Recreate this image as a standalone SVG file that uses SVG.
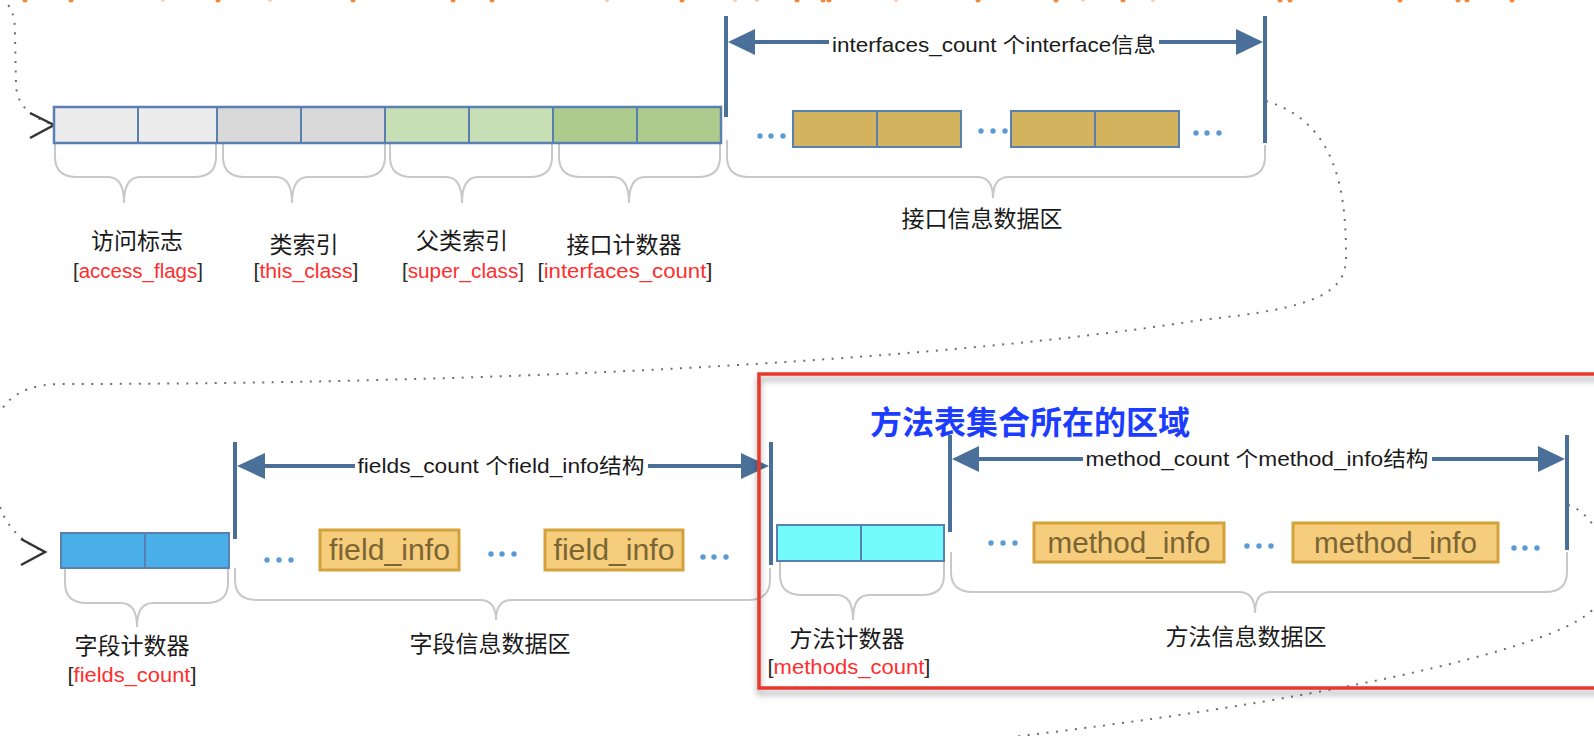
<svg xmlns="http://www.w3.org/2000/svg" width="1594" height="736" viewBox="0 0 1594 736">
<style>
.cjk{font-family:"Noto Sans CJK SC","Noto Sans",sans-serif;font-size:23px;fill:#1a1a1a;text-anchor:middle}
.lbl{font-family:"Liberation Sans","Noto Sans CJK SC",sans-serif;font-size:20px;fill:#2a2a2a;text-anchor:middle}
.red{fill:#ff2e2e}
.dim{font-family:"Liberation Sans","Noto Sans CJK SC",sans-serif;font-size:21px;fill:#1a1a1a;text-anchor:middle}
.box{font-family:"Liberation Sans",sans-serif;font-size:30px;fill:#7a6533;text-anchor:middle}
.cell{stroke:#5a80b2;stroke-width:2}
.vline{stroke:#4a6f98;stroke-width:4;fill:none}
.ah{fill:#4a6f98}
.brace{fill:none;stroke:#c8c8c8;stroke-width:2}
.dots{fill:#5b9bd5}
.dotted{fill:none;stroke:#6e6e6e;stroke-width:2;stroke-dasharray:2 7.5}
.chev{fill:none;stroke:#333;stroke-width:2.5;stroke-linejoin:miter}
.info{fill:#f5cd7d;stroke:#d4a23a;stroke-width:3}
.orng{fill:#f0883a}
</style>
<defs>
<filter id="sh" x="-5%" y="-5%" width="110%" height="115%">
<feDropShadow dx="0" dy="5" stdDeviation="3" flood-color="#000" flood-opacity="0.35"/>
</filter>
</defs>
<rect width="1594" height="736" fill="#fff"/>

<g id="top-edge">
<circle class="orng" cx="25" cy="0" r="2.5"/><circle class="orng" cx="71" cy="0" r="2.5"/><circle class="orng" cx="163" cy="0" r="2" opacity="0.4"/><circle class="orng" cx="218" cy="0" r="2.5"/><circle class="orng" cx="270" cy="0" r="2" opacity="0.4"/><circle class="orng" cx="353" cy="0" r="2.5"/><circle class="orng" cx="453" cy="0" r="2.5"/><circle class="orng" cx="492" cy="0" r="2.5"/><circle class="orng" cx="607" cy="0" r="2" opacity="0.5"/><circle class="orng" cx="682" cy="0" r="2.5"/><circle class="orng" cx="735" cy="0" r="2" opacity="0.4"/><circle class="orng" cx="757" cy="0" r="2" opacity="0.5"/><circle class="orng" cx="797" cy="0" r="2.5"/><circle class="orng" cx="823" cy="0" r="2.5"/><circle class="orng" cx="829" cy="0" r="2.5"/><circle class="orng" cx="896" cy="0" r="2" opacity="0.4"/><circle class="orng" cx="978" cy="0" r="2.5"/><circle class="orng" cx="1056" cy="0" r="2.5"/><circle class="orng" cx="1083" cy="0" r="2" opacity="0.4"/><circle class="orng" cx="1123" cy="0" r="2.5"/><circle class="orng" cx="1153" cy="0" r="2" opacity="0.4"/><circle class="orng" cx="1280" cy="0" r="2.5"/><circle class="orng" cx="1290" cy="0" r="2.5"/><circle class="orng" cx="1400" cy="0" r="2.5"/><circle class="orng" cx="1458" cy="0" r="2.5"/><circle class="orng" cx="1467" cy="0" r="2.5"/><circle class="orng" cx="1512" cy="0" r="2.5"/>
</g>

<g id="connectors">
<path class="dotted" d="M2,-2 C12,8 15,15 15,35 L16,85 C17,105 30,117 54,125"/>
<path class="dotted" d="M1266,101 C1336,122 1346,190 1346,255 C1347,292 1320,308 1200,320 C1050,345 650,384 60,384 C15,385 -8,405 -8,450 C-8,505 5,535 45,552"/>
<path class="dotted" d="M1568,505 C1600,515 1620,570 1594,608 C1560,650 1300,705 985,740"/>
<polyline class="chev" points="30,113 54,125 30,138"/>
<polyline class="chev" points="21,539 45,552 21,565"/>
</g>

<g id="access-flags">
<rect class="cell" x="54" y="107" width="84" height="36" fill="#ececec"/>
<rect class="cell" x="138" y="107" width="79" height="36" fill="#ececec"/>
<path class="brace" d="M55,144 L55,157 Q55,177 77,177 L108,177 Q124,177 124,203 Q124,177 140,177 L194,177 Q216,177 216,157 L216,144"/>
<text class="cjk" x="137" y="249">访问标志</text>
<text class="lbl" x="138" y="278" textLength="130" lengthAdjust="spacingAndGlyphs">[<tspan class="red">access_flags</tspan>]</text>
</g>

<g id="this-class">
<rect class="cell" x="217" y="107" width="84" height="36" fill="#d9d9d9"/>
<rect class="cell" x="301" y="107" width="84" height="36" fill="#d9d9d9"/>
<path class="brace" d="M223,144 L223,157 Q223,177 245,177 L276,177 Q292,177 292,203 Q292,177 308,177 L363,177 Q385,177 385,157 L385,144"/>
<text class="cjk" x="304" y="253">类索引</text>
<text class="lbl" x="306" y="278" textLength="105" lengthAdjust="spacingAndGlyphs">[<tspan class="red">this_class</tspan>]</text>
</g>

<g id="super-class">
<rect class="cell" x="385" y="107" width="84" height="36" fill="#c8deb5"/>
<rect class="cell" x="469" y="107" width="84" height="36" fill="#c8deb5"/>
<path class="brace" d="M390,144 L390,157 Q390,177 412,177 L446,177 Q462,177 462,203 Q462,177 478,177 L530,177 Q552,177 552,157 L552,144"/>
<text class="cjk" x="462" y="249">父类索引</text>
<text class="lbl" x="463" y="278" textLength="122" lengthAdjust="spacingAndGlyphs">[<tspan class="red">super_class</tspan>]</text>
</g>

<g id="interfaces-count">
<rect class="cell" x="553" y="107" width="84" height="36" fill="#aecb8e"/>
<rect class="cell" x="637" y="107" width="84" height="36" fill="#aecb8e"/>
<path class="brace" d="M559,144 L559,157 Q559,177 581,177 L613,177 Q629,177 629,203 Q629,177 645,177 L698,177 Q720,177 720,157 L720,144"/>
<text class="cjk" x="624" y="253">接口计数器</text>
<text class="lbl" x="625" y="278" textLength="175" lengthAdjust="spacingAndGlyphs">[<tspan class="red">interfaces_count</tspan>]</text>
</g>
<rect x="54" y="107" width="667" height="36" fill="none" stroke="#5a80b2" stroke-width="2.5"/>

<g id="interfaces">
<line class="vline" x1="726" y1="16" x2="726" y2="117"/>
<line class="vline" x1="1265" y1="16" x2="1265" y2="143"/>
<line class="vline" x1="750" y1="42" x2="1242" y2="42"/>
<polygon class="ah" points="728,42 755,29 755,55"/>
<polygon class="ah" points="1263,42 1236,29 1236,55"/>
<rect x="829" y="30" width="330" height="26" fill="#fff"/>
<text class="dim" x="994" y="52" textLength="324" lengthAdjust="spacingAndGlyphs">interfaces_count 个interface信息</text>
<rect class="cell" x="793" y="111" width="84" height="36" fill="#d4b35e"/>
<rect class="cell" x="877" y="111" width="84" height="36" fill="#d4b35e"/>
<rect class="cell" x="1011" y="111" width="84" height="36" fill="#d4b35e"/>
<rect class="cell" x="1095" y="111" width="84" height="36" fill="#d4b35e"/>
<g class="dots"><circle cx="760" cy="136" r="2.7"/><circle cx="771" cy="136" r="2.7"/><circle cx="783" cy="136" r="2.7"/>
<circle cx="981" cy="131" r="2.7"/><circle cx="993" cy="131" r="2.7"/><circle cx="1005" cy="131" r="2.7"/>
<circle cx="1196" cy="133" r="2.7"/><circle cx="1207" cy="133" r="2.7"/><circle cx="1219" cy="133" r="2.7"/></g>
<path class="brace" d="M727,140 L727,157 Q727,177 749,177 L977,177 Q993,177 993,198 Q993,177 1009,177 L1243,177 Q1265,177 1265,157 L1265,145"/>
<text class="cjk" x="982" y="227">接口信息数据区</text>
</g>

<g id="fields-count">
<rect class="cell" x="61" y="533" width="84" height="35" fill="#4aaee8" stroke="#4a7db0"/>
<rect class="cell" x="145" y="533" width="84" height="35" fill="#4aaee8" stroke="#4a7db0"/>
<path class="brace" d="M65,569 L65,583 Q65,603 87,603 L121,603 Q137,603 137,627 Q137,603 153,603 L206,603 Q228,603 228,583 L228,569"/>
<text class="cjk" x="132" y="654">字段计数器</text>
<text class="lbl" x="132" y="682" textLength="129" lengthAdjust="spacingAndGlyphs">[<tspan class="red">fields_count</tspan>]</text>
</g>

<g id="fields">
<line class="vline" x1="235" y1="442" x2="235" y2="539"/>
<line class="vline" x1="771" y1="442" x2="771" y2="565"/>
<line class="vline" x1="260" y1="466" x2="746" y2="466"/>
<polygon class="ah" points="237,466 265,453 265,479"/>
<polygon class="ah" points="769,466 741,453 741,479"/>
<rect x="355" y="455" width="293" height="24" fill="#fff"/>
<text class="dim" x="501" y="473" textLength="287" lengthAdjust="spacingAndGlyphs">fields_count 个field_info结构</text>
<rect class="info" x="320" y="530" width="139" height="40"/>
<text class="box" x="389.5" y="560" textLength="121" lengthAdjust="spacingAndGlyphs">field_info</text>
<rect class="info" x="545" y="530" width="138" height="40"/>
<text class="box" x="614" y="560" textLength="121" lengthAdjust="spacingAndGlyphs">field_info</text>
<g class="dots"><circle cx="267" cy="560" r="2.7"/><circle cx="279" cy="560" r="2.7"/><circle cx="291" cy="560" r="2.7"/>
<circle cx="491" cy="554" r="2.7"/><circle cx="502" cy="554" r="2.7"/><circle cx="514" cy="554" r="2.7"/>
<circle cx="703" cy="557" r="2.7"/><circle cx="714" cy="557" r="2.7"/><circle cx="726" cy="557" r="2.7"/></g>
<path class="brace" d="M235,568 L235,580 Q235,600 257,600 L480,600 Q496,600 496,620 Q496,600 512,600 L748,600 Q770,600 770,580 L770,568"/>
<text class="cjk" x="490" y="652">字段信息数据区</text>
</g>

<g id="methods-count">
<rect class="cell" x="777" y="525" width="84" height="36" fill="#73fafa" stroke="#4a88b8"/>
<rect class="cell" x="861" y="525" width="83" height="36" fill="#73fafa" stroke="#4a88b8"/>
<path class="brace" d="M780,562 L780,575 Q780,595 802,595 L837,595 Q853,595 853,620 Q853,595 869,595 L922,595 Q944,595 944,575 L944,562"/>
<text class="cjk" x="847" y="647">方法计数器</text>
<text class="lbl" x="849" y="674" textLength="163" lengthAdjust="spacingAndGlyphs">[<tspan class="red">methods_count</tspan>]</text>
</g>

<g id="methods">
<line class="vline" x1="950" y1="435" x2="950" y2="532"/>
<line class="vline" x1="1567" y1="435" x2="1567" y2="550"/>
<line class="vline" x1="975" y1="459" x2="1542" y2="459"/>
<polygon class="ah" points="952,459 979,446 979,472"/>
<polygon class="ah" points="1565,459 1538,446 1538,472"/>
<rect x="1083" y="448" width="349" height="24" fill="#fff"/>
<text class="dim" x="1257" y="466" textLength="343" lengthAdjust="spacingAndGlyphs">method_count 个method_info结构</text>
<rect class="info" x="1034" y="523" width="190" height="39"/>
<text class="box" x="1129" y="553" textLength="163" lengthAdjust="spacingAndGlyphs">method_info</text>
<rect class="info" x="1293" y="523" width="205" height="39"/>
<text class="box" x="1395.5" y="553" textLength="163" lengthAdjust="spacingAndGlyphs">method_info</text>
<g class="dots"><circle cx="991" cy="543" r="2.7"/><circle cx="1003" cy="543" r="2.7"/><circle cx="1015" cy="543" r="2.7"/>
<circle cx="1247" cy="546" r="2.7"/><circle cx="1259" cy="546" r="2.7"/><circle cx="1271" cy="546" r="2.7"/>
<circle cx="1514" cy="548" r="2.7"/><circle cx="1525" cy="548" r="2.7"/><circle cx="1537" cy="548" r="2.7"/></g>
<path class="brace" d="M951,552 L951,572 Q951,592 973,592 L1239,592 Q1255,592 1255,613 Q1255,592 1271,592 L1545,592 Q1567,592 1567,572 L1567,552"/>
<text class="cjk" x="1246" y="645">方法信息数据区</text>
</g>

<g id="method-region">
<rect x="759" y="374" width="845" height="314" fill="none" stroke="#e8372c" stroke-width="3.5" filter="url(#sh)"/>
<text x="870" y="434" font-family="Noto Sans CJK SC, sans-serif" font-size="32" font-weight="bold" fill="#1c3cff">方法表集合所在的区域</text>
</g>
</svg>
